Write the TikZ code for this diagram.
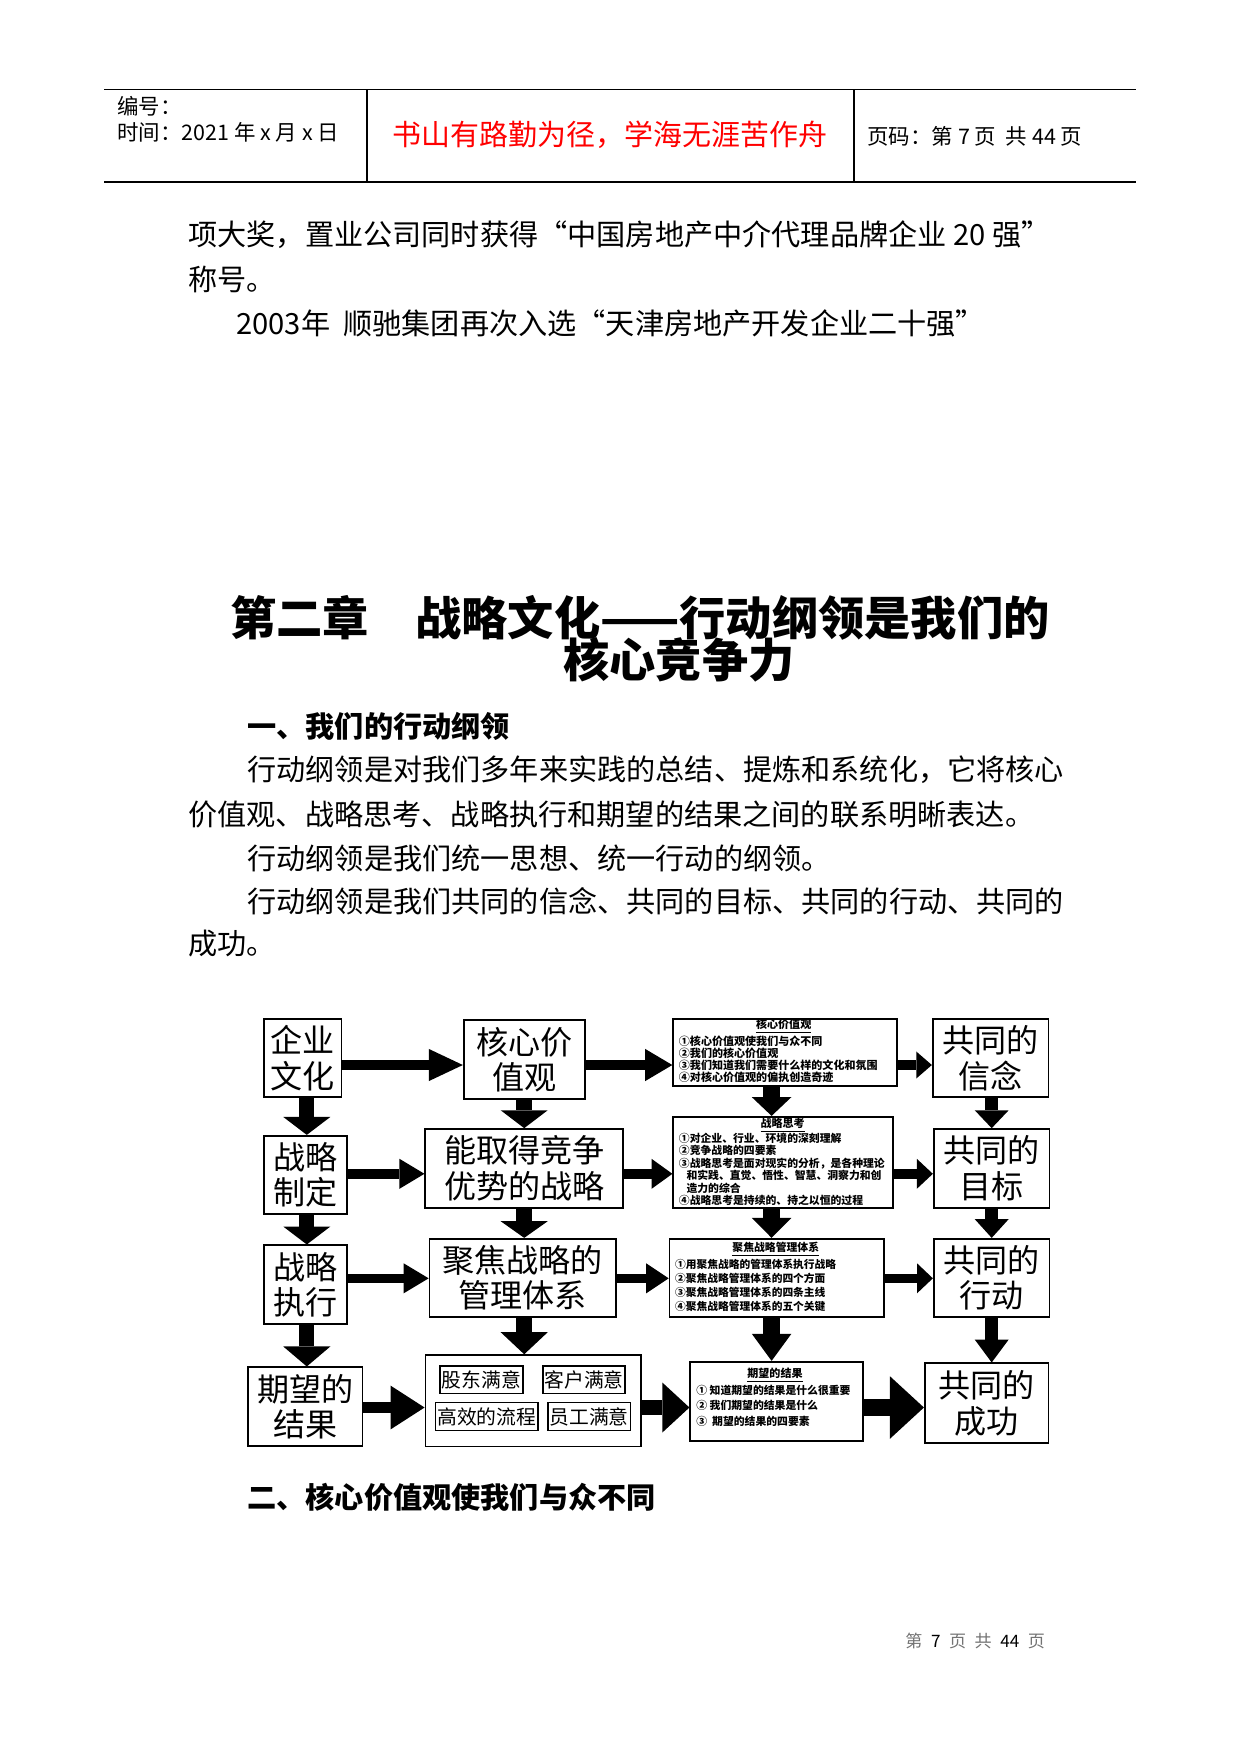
\documentclass[tikz,border=0pt]{standalone}
\usepackage{fontspec}
\setmainfont{Noto Sans CJK SC}
\usetikzlibrary{arrows.meta}
\definecolor{footgray}{gray}{0.45}
\newdimen\pxu \pxu=0.48pt
\begin{document}
\begin{tikzpicture}[x=0.48pt,y=-0.48pt,
  txt/.style={inner sep=0pt,anchor=west},
  body/.style={txt,font=\fontsize{14pt}{16pt}\selectfont},
  head/.style={txt,font=\bfseries\fontsize{14pt}{16pt}\selectfont},
  hdr/.style={txt,font=\fontsize{10.3pt}{12pt}\selectfont},
  sz/.style 2 args={minimum width=#1\pxu,minimum height=#2\pxu},
  box/.style={draw,line width=0.8pt,inner sep=0pt,align=center,font=\fontsize{15.4pt}{17pt}\selectfont},
  sub/.style={draw,line width=0.6pt,inner sep=0pt,font=\fontsize{9.5pt}{11pt}\selectfont},
  dbox/.style={draw,line width=0.8pt,inner sep=0pt},
  dtitle/.style={inner sep=0pt,font=\bfseries\fontsize{#1}{#1}\selectfont},
  dlist/.style 2 args={inner sep=0pt,anchor=north west,align=left,font=\bfseries\fontsize{#1}{#2}\selectfont},
  ba/.style n args={3}{line width=#1pt,-{Triangle[width=#2pt,length=#3pt,line width=0pt]}},
  hline/.style={line width=0.7pt}
]
\useasboundingbox[fill=white] (0,0) rectangle (1241,1754);

% ---------- header ----------
\draw[hline] (104,89.5) -- (1136,89.5);
\draw[hline] (104,182) -- (1136,182);
\draw[hline] (367,89.5) -- (367,182);
\draw[hline] (854,89.5) -- (854,182);
\node[hdr] (h1) at (117,106) {编号：};
\node[hdr] (h2) at (117,132) {时间：2021 年 x 月 x 日};
\node[inner sep=0pt,text=red,font=\fontsize{13.9pt}{16pt}\selectfont] (h3) at (610,135) {书山有路勤为径，学海无涯苦作舟};
\node[hdr] (h4) at (867,136) {页码：第 7 页\ \ 共 44 页};

% ---------- body text ----------
\node[body] (t1) at (188,235) {项大奖，置业公司同时获得“中国房地产中介代理品牌企业 20 强”};
\node[body] (t2) at (188,279) {称号。};
\node[body] (t3) at (236,323) {2003年\ \ 顺驰集团再次入选“天津房地产开发企业二十强”};

\node[inner sep=0pt,font=\bfseries\fontsize{22.2pt}{24pt}\selectfont] (ti1) at (640,618) {第二章\hspace{1em}战略文化——行动纲领是我们的};
\node[inner sep=0pt,font=\bfseries\fontsize{22.2pt}{24pt}\selectfont] (ti2) at (679,660) {核心竞争力};

\node[head] (s1) at (247,726) {一、我们的行动纲领};
\node[body] (p1) at (247,770) {行动纲领是对我们多年来实践的总结、提炼和系统化，它将核心};
\node[body] (p2) at (188,814) {价值观、战略思考、战略执行和期望的结果之间的联系明晰表达。};
\node[body] (p3) at (247,858) {行动纲领是我们统一思想、统一行动的纲领。};
\node[body] (p4) at (247,901) {行动纲领是我们共同的信念、共同的目标、共同的行动、共同的};
\node[body] (p5) at (188,944) {成功。};

\node[head] (s2) at (247,1497) {二、核心价值观使我们与众不同};

\node[txt,font=\fontsize{8.2pt}{10pt}\selectfont,text=footgray] (foot) at (905,1641)
  {第\hspace{.5em}\textcolor{black}{7}\hspace{.5em}页\hspace{.5em}共\hspace{.5em}\textcolor{black}{44}\hspace{.5em}页};

% ---------- diagram boxes ----------
\node[box,sz={77.9}{78}] (qywh) at (302.65,1058.3) {企业\\文化};
\node[box,sz={121}{79.3}] (hxjz) at (524.2,1059.65) {核心价\\值观};
\node[dbox,sz={223.7}{66.7}] (d1) at (785,1052.65) {};
\node[box,sz={115.8}{78}] (xn) at (990.6,1058.3) {共同的\\信念};

\node[box,sz={83.1}{78.3}] (zlzd) at (305.25,1174.85) {战略\\制定};
\node[box,sz={197.9}{78.7}] (nqd) at (524.25,1168.35) {能取得竞争\\优势的战略};
\node[dbox,sz={219.5}{91}] (d2) at (783,1162.2) {};
\node[box,sz={115.8}{78.7}] (mb) at (991.6,1168.35) {共同的\\目标};

\node[box,sz={83.1}{78.7}] (zlzx) at (305.25,1284.65) {战略\\执行};
\node[box,sz={186.3}{78.6}] (jjgl) at (522.65,1278) {聚焦战略的\\管理体系};
\node[dbox,sz={214.2}{78.6}] (d3) at (776.6,1278) {};
\node[box,sz={115.8}{78.6}] (xd) at (991.6,1278) {共同的\\行动};

\node[box,sz={114.7}{78.4}] (qwjg) at (305.25,1406.5) {期望的\\结果};
\node[dbox,line width=0.7pt,sz={215.7}{91.7}] (sat) at (533.15,1400.85) {};
\node[dbox,sz={172.7}{79.6}] (d4) at (776.6,1401.5) {};
\node[box,sz={123.7}{80}] (cg) at (986.6,1403.3) {共同的\\成功};

\node[sub,sz={83}{27.3}] (gd) at (481.5,1379.65) {股东满意};
\node[sub,sz={82}{27.3}] (kh) at (584,1379.65) {客户满意};
\node[sub,sz={102.1}{28}] (gx) at (486.85,1416.7) {高效的流程};
\node[sub,sz={82.6}{28}] (yg) at (589.2,1416.7) {员工满意};

% ---------- detail texts ----------
\node[dtitle=5.3pt] (d1t) at (783.7,1026.7) {\underline{核心价值观}};
\node[dlist={5.3pt}{5.7pt}] (d1l) at (678.5,1035.5) {①核心价值观使我们与众不同\\②我们的核心价值观\\③我们知道我们需要什么样的文化和氛围\\④对核心价值观的偏执创造奇迹};

\node[dtitle=5.3pt] (d2t) at (782.7,1125) {\underline{战略思考}};
\node[dlist={5.2pt}{6pt}] (d2l) at (678.5,1132.3) {①对企业、行业、环境的深刻理解\\②竞争战略的四要素\\③战略思考是面对现实的分析，是各种理论\\\hspace{0.7em}和实践、直觉、悟性、智慧、洞察力和创\\\hspace{0.7em}造力的综合\\④战略思考是持续的、持之以恒的过程};

\node[dtitle=5.2pt] (d3t) at (775.8,1249.3) {\underline{聚焦战略管理体系}};
\node[dlist={5.15pt}{6.7pt}] (d3l) at (674.8,1258.7) {①用聚焦战略的管理体系执行战略\\②聚焦战略管理体系的四个方面\\③聚焦战略管理体系的四条主线\\④聚焦战略管理体系的五个关键};

\node[dtitle=5.3pt] (d4t) at (775,1375) {\underline{期望的结果}};
\node[dlist={5.2pt}{7.6pt}] (d4l) at (696,1384.2) {① 知道期望的结果是什么很重要\\② 我们期望的结果是什么\\③\ \ 期望的结果的四要素};

% ---------- arrows ----------
\coordinate (r1) at (0,1065);
\coordinate (r2) at (0,1173.8);
\coordinate (r3) at (0,1278.3);
\coordinate (r4) at (0,1407.5);
\coordinate (c1) at (306.8,0);
\coordinate (c2) at (524.2,0);
\coordinate (c3) at (771.6,0);
\coordinate (c4) at (991.7,0);

\draw[ba={4.8}{15.4}{16.3}] (qywh.east |- r1) -- (hxjz.west |- r1);
\draw[ba={4.8}{15.4}{13}] (hxjz.east |- r1) -- (d1.west |- r1);
\draw[ba={4.8}{13}{7.5}] (d1.east |- r1) -- (xn.west |- r1);

\draw[ba={4.5}{14.4}{12}] (zlzd.east |- r2) -- (nqd.west |- r2);
\draw[ba={4.5}{14.4}{10}] (nqd.east |- r2) -- (d2.west |- r2);
\draw[ba={4.5}{14.4}{7.7}] (d2.east |- r2) -- (mb.west |- r2);

\draw[ba={4.5}{14.4}{12}] (zlzx.east |- r3) -- (jjgl.west |- r3);
\draw[ba={4.5}{14.4}{10.8}] (jjgl.east |- r3) -- (d3.west |- r3);
\draw[ba={4.5}{14.4}{7.6}] (d3.east |- r3) -- (xd.west |- r3);

\draw[ba={5.6}{21}{16.3}] (qwjg.east |- r4) -- (sat.west |- r4);
\draw[ba={7.5}{24}{13}] (sat.east |- r4) -- (d4.west |- r4);
\draw[ba={8.5}{30}{16.3}] (d4.east |- r4) -- (cg.west |- r4);

\draw[ba={7.1}{22.6}{8.6}] (qywh.south -| c1) -- (zlzd.north -| c1);
\draw[ba={7.1}{22.6}{8.6}] (zlzd.south -| c1) -- (zlzx.north -| c1);
\draw[ba={7.1}{22.6}{9.6}] (zlzx.south -| c1) -- (qwjg.north -| c1);

\draw[ba={7.6}{22.6}{8.6}] (hxjz.south -| c2) -- (nqd.north -| c2);
\draw[ba={7.6}{22.6}{8}] (nqd.south -| c2) -- (jjgl.north -| c2);
\draw[ba={7.6}{22.6}{10.6}] (jjgl.south -| c2) -- (sat.north -| c2);

\draw[ba={8.2}{19}{9}] (d1.south -| c3) -- (d2.north -| c3);
\draw[ba={8.2}{19}{9.6}] (d2.south -| c3) -- (d3.north -| c3);
\draw[ba={8.2}{19}{13}] (d3.south -| c3) -- (d4.north -| c3);

\draw[ba={6.3}{16.3}{8.6}] (xn.south -| c4) -- (mb.north -| c4);
\draw[ba={6.3}{16.3}{9}] (mb.south -| c4) -- (xd.north -| c4);
\draw[ba={6.3}{16.3}{11}] (xd.south -| c4) -- (cg.north -| c4);
\end{tikzpicture}
\end{document}
